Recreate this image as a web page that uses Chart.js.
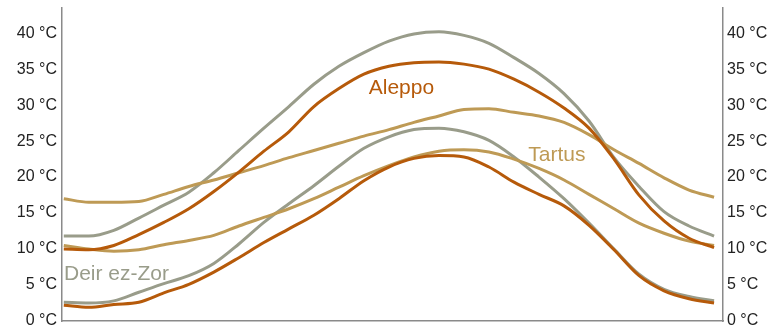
<!DOCTYPE html>
<html>
<head>
<meta charset="utf-8">
<script src="https://cdn.jsdelivr.net/npm/chart.js@4"></script>
<style>
  html, body { margin: 0; padding: 0; background: #fff; }
  #wrap { width: 771px; height: 331px; }
</style>
</head>
<body>
<div id="wrap"><canvas id="chart"></canvas></div>
<script>
// Day of year for every sample
const days = [1, 15, 29, 43, 57, 71, 85, 99, 113, 127, 141, 155, 169, 183, 197, 211, 225, 239, 253, 267, 281, 295, 309, 323, 337, 351, 365];

// Mean daily high / low (°C)
const aleppoHigh = [10.0, 9.9, 10.5, 12.0, 13.7, 15.6, 18.0, 20.7, 23.6, 26.3, 29.8, 32.3, 34.3, 35.4, 35.9, 36.0, 35.7, 35.0, 33.6, 31.8, 29.6, 26.8, 22.5, 17.5, 13.9, 11.5, 10.2];
const aleppoLow = [2.2, 1.9, 2.3, 2.6, 3.9, 5.1, 6.8, 8.8, 10.9, 12.8, 14.7, 17.0, 19.5, 21.4, 22.6, 23.0, 22.8, 21.4, 19.3, 17.6, 16.0, 13.3, 9.9, 6.3, 4.2, 3.1, 2.5];
const tartusHigh = [17.0, 16.5, 16.5, 16.6, 17.6, 18.7, 19.6, 20.6, 21.6, 22.7, 23.7, 24.7, 25.7, 26.6, 27.6, 28.5, 29.4, 29.5, 29.0, 28.5, 27.6, 25.9, 23.8, 21.9, 19.9, 18.2, 17.2];
const tartusLow = [10.5, 10.0, 9.7, 9.9, 10.6, 11.2, 11.9, 13.2, 14.4, 15.6, 17.0, 18.6, 20.2, 21.6, 22.8, 23.6, 23.8, 23.5, 22.5, 21.2, 19.6, 17.6, 15.6, 13.6, 12.2, 11.1, 10.5];
const deirHigh = [11.8, 11.8, 12.6, 14.3, 16.1, 17.9, 20.6, 23.7, 26.8, 29.8, 32.9, 35.4, 37.3, 38.9, 39.9, 40.2, 39.7, 38.6, 36.6, 34.4, 31.6, 27.8, 22.7, 18.7, 15.2, 13.2, 11.8];
const deirLow = [2.6, 2.5, 2.8, 4.0, 5.2, 6.3, 8.0, 10.7, 13.7, 16.3, 18.8, 21.5, 24.0, 25.6, 26.6, 26.8, 26.3, 25.1, 22.8, 20.0, 17.0, 13.6, 10.0, 6.5, 4.4, 3.4, 2.8];

const cities = ['Aleppo', 'Tartus', 'Deir ez-Zor'];
const cityColors = ['#b65a0a', '#be9a55', '#999c8a'];
// where each city name sits (baseline centre): [day, °C]
const labelSpots = [[190, 31.6], [277, 22.3], [30.5, 5.7]];

const toPoints = arr => arr.map((v, i) => ({ x: days[i], y: v }));

function makeSet(name, values, color) {
  return {
    label: name,
    data: toPoints(values),
    borderColor: color,
    borderWidth: 3,
    pointRadius: 0,
    fill: false,
    tension: 0.4,
    cubicInterpolationMode: 'monotone'
  };
}

const datasets = [
  makeSet('Aleppo high', aleppoHigh, cityColors[0]),
  makeSet('Aleppo low', aleppoLow, cityColors[0]),
  makeSet('Tartus high', tartusHigh, cityColors[1]),
  makeSet('Tartus low', tartusLow, cityColors[1]),
  makeSet('Deir ez-Zor high', deirHigh, cityColors[2]),
  makeSet('Deir ez-Zor low', deirLow, cityColors[2])
];

// Write the city names on the plot
const cityLabels = {
  id: 'cityLabels',
  afterDatasetsDraw(chart) {
    const ctx = chart.ctx;
    const xs = chart.scales.x;
    const ys = chart.scales.y;
    ctx.save();
    ctx.font = '21px "Liberation Sans", Arial, sans-serif';
    ctx.textAlign = 'center';
    ctx.textBaseline = 'alphabetic';
    cities.forEach((name, i) => {
      ctx.fillStyle = cityColors[i];
      ctx.fillText(name, xs.getPixelForValue(labelSpots[i][0]), ys.getPixelForValue(labelSpots[i][1]));
    });
    ctx.restore();
  }
};

const tickFont = { size: 16, lineHeight: 1, family: '"Liberation Sans", Arial, sans-serif' };

// no extra room for the end labels, the frame is fixed
function fixAxis(width) {
  return scale => {
    scale.width = width;
    scale.paddingTop = 0;
    scale.paddingBottom = 0;
  };
}

new Chart(document.getElementById('chart'), {
  type: 'line',
  data: { datasets: datasets },
  options: {
    responsive: true,
    maintainAspectRatio: false,
    animation: false,
    layout: { padding: { top: 8, right: 0, left: 0, bottom: 0 } },
    plugins: {
      legend: { display: false },
      tooltip: { enabled: false }
    },
    scales: {
      x: {
        type: 'linear',
        min: 0,
        max: 370,
        grid: { display: false, drawTicks: false },
        border: { display: true, color: '#8a8a8a', width: 1.5 },
        ticks: { display: false },
        afterFit(scale) {
          scale.height = 10;
          scale.paddingLeft = 0;
          scale.paddingRight = 0;
        }
      },
      y: {
        position: 'left',
        min: 0,
        max: 43.5,
        grid: { display: false, drawTicks: false },
        border: { display: true, color: '#8a8a8a', width: 1.5 },
        ticks: {
          stepSize: 5,
          color: '#222',
          font: tickFont,
          padding: 5,
          callback: v => v % 5 === 0 ? v + ' °C' : ''
        },
        afterFit: fixAxis(62)
      },
      y2: {
        position: 'right',
        min: 0,
        max: 43.5,
        grid: { display: false, drawTicks: false },
        border: { display: true, color: '#8a8a8a', width: 1.5 },
        ticks: {
          stepSize: 5,
          color: '#222',
          font: tickFont,
          padding: 4,
          callback: v => v % 5 === 0 ? v + ' °C' : ''
        },
        afterFit: fixAxis(48)
      }
    }
  },
  plugins: [cityLabels]
});
</script>
</body>
</html>
